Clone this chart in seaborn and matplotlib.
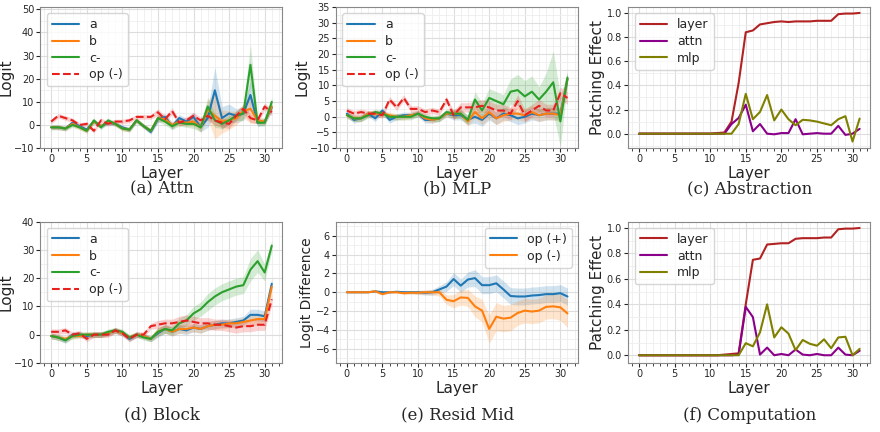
import numpy as np
import matplotlib
matplotlib.use("Agg")
import matplotlib.pyplot as plt
import seaborn as sns
from matplotlib.ticker import MultipleLocator

sns.set_style("whitegrid")
plt.rcParams['font.family'] = ['DejaVu Sans']

layers = list(range(32))

# (a) Attn
attn_a = [-1,-1,-1.5,1,-0.5,-2,1.5,-0.5,1,0.5,-1,-2,2,-0.5,-3,2.5,3.5,-0.5,3,1.5,3.5,-1,3,15,3,5,4,5,13,1,1.5,7.5]
attn_b = [-1,-1,-1.5,0.5,-1,-2.5,1.5,-0.5,1.5,0.5,-1.5,-2,2,-0.5,-2.5,3,2.5,0,1.5,1,1.5,-1,6.5,4,1.5,2,3,6,7,2,1.5,8]
attn_c = [-1,-1,-1.5,0,-1,-2.5,2,-1,2,0.5,-1.5,-2,2,-0.5,-2.5,3,1.5,-0.5,1,0.5,0.5,-1,8,2,0.5,2,4,5,26,1,1,10]
attn_op = [1.5,4,3,2,0,0.5,-2.5,2,0.5,1.5,1.5,2,3.5,3.5,3.5,5.5,2.5,6,1,2,4,2,4,2,1,0.5,4,7,3,2,8,5.5]
attn_a_sd = [1,1,1,1,1,1,1,1,1,1,1,1,1,1,1,1.5,1.5,1.5,1.5,1.5,2,2,4,10,5,4,3,3,6,1.5,1.5,2]
attn_c_sd = [1,1,1,1,1,1,1,1,1,1,1,1,1,1,1,1.5,1.5,1.5,1.5,1.5,2,2,4,3,2,2,2,3,9,1.5,1.5,2]
attn_op_sd = [1,1,1,1,1,1,1,1,1,1,1,1,1,1,1,1.5,1.5,1.5,1.5,1.5,1.5,1.5,2,2,2,2,2,2,2,1.5,1.5,1.5]

# (b) MLP
mlp_a = [1,-1,-0.5,1,-0.5,2,-1,0,0.5,0.5,1,-1,-1,-0.5,1,0.5,0.5,-1,0,-1,1,-0.5,1,0.5,-0.5,0,1,0.5,1,1,1,12]
mlp_b = [0.5,-0.5,-0.5,1,1,1,0.5,0,0,0.5,1,-0.5,-1,-0.5,1,1,1,-1.5,1.5,-0.5,1.5,-0.5,0.5,1,1,0.5,1.5,0.5,1,1,0.5,12]
mlp_c = [0.5,-0.5,-0.5,0.5,1.5,1,0,0,0,0,1,0,-0.5,-0.5,1.5,1,1,-1,5.5,2,6,5,4,8,8.5,6.5,8,5.5,8,11,-1.5,12.5]
mlp_op = [2,1,1.5,1,1,0.5,5.5,3,6,2.5,2.5,1.5,2,1.5,5.5,0.5,3,3,3,3.5,3,2,2,1,5,0.5,2,3.5,2,2,7.5,6]
mlp_a_sd = [1,1,1,1,1,1,1,1,1,1,1,1,1,1,1,1.5,1.5,1.5,2,2,2,2,2,2,2,2,2,2,2,2,2,2]
mlp_c_sd = [1,1,1,1,1,1,1,1,1,1,1,1,1,1,1,1.5,1.5,1.5,2.5,2.5,3,3,3,4,5,5,5,4,6,10,8,2]
mlp_op_sd = [1,1,1,1,1,1,1,1,1,1,1,1,1,1,1,1.5,1.5,1.5,2,2,2,2,2,2,2,2,2,2,2,2,2,2]

# (c) Abstraction
abs_layer = [0,0,0,0,0,0,0,0,0,0,0,0.005,0.01,0.1,0.42,0.84,0.855,0.905,0.915,0.925,0.93,0.925,0.93,0.93,0.93,0.935,0.935,0.935,0.99,0.995,0.995,1.0]
abs_attn = [0,0,0,0,0,0,0,0,0,0,0,0,0,0.08,0.13,0.24,0.02,0.08,0.0,-0.005,0.005,0.005,0.12,-0.005,0,0.005,0,0,0.065,-0.01,0,0.04]
abs_mlp = [0,0,0,0,0,0,0,0,0,0,0,0,0,0,0.08,0.33,0.12,0.18,0.32,0.11,0.2,0.12,0.07,0.115,0.11,0.1,0.085,0.07,0.12,0.145,-0.065,0.125]

# (d) Block
blk_a = [-0.5,-1,-2,0,0,-0.5,0,0,0.5,1.5,0.5,-1.5,0,-0.5,-1.5,0.5,2,1,2,1.5,2.5,2,3,3.5,4,4,4.5,5,7,7,6.5,18]
blk_b = [-0.5,-1,-1.5,-0.5,-0.5,0,0,0,0.5,1.5,0.5,-1,0,-0.5,-1.5,1,2,1,2,2,2.5,2,3,3.5,3.5,4,4,4.5,5,5.5,5.5,17]
blk_c = [-0.5,-1,-2,-0.5,0,0,0,0,1,1.5,1,-1,0,-1,-1.5,1,2,1.5,4,5,7.5,9,11.5,13.5,15,16,17,17.5,23,26,22,31.5]
blk_op = [1,1,1.5,0,0.5,-1.5,0,0,0,1.5,0.5,-1.5,0,0,3,3.5,4,4,4.5,5,4.5,4,4,3.5,3.5,3,2.5,3,3,3.5,3.5,12.5]
blk_a_sd = [1,1,1,1,1,1,1,1,1,1,1,1,1,1,1,1.5,1.5,1.5,1.5,1.5,1.5,1.5,1.5,1.5,1.5,1.5,1.5,1.5,2,2,2,2]
blk_c_sd = [1,1,1,1,1,1,1,1,1,1,1,1,1,1,1,1.5,1.5,1.5,2,2,2.5,2.5,3,3,3,3,3,3,4,4,3,2]
blk_op_sd = [1,1,1,1,1,1,1,1,1,1,1,1,1,1,1,1.5,1.5,1.5,2,2,2,2,2,2,2,2,2,2,2,2,2,2]

# (e) Resid Mid
res_plus = [0,0,0,0,0.1,0,0,0.05,0,0,0,-0.05,0,0.3,0.6,1.4,0.7,1.35,1.5,0.75,0.75,0.95,0.3,-0.4,-0.45,-0.45,-0.35,-0.3,-0.2,-0.2,-0.1,-0.45]
res_minus = [0,0,0,0,0.1,-0.2,0,0,-0.1,-0.05,-0.05,0,0,0,-0.8,-0.95,-0.55,-0.6,-1.5,-1.95,-3.9,-2.6,-2.8,-2.7,-2.2,-1.95,-2.05,-1.95,-1.55,-1.5,-1.6,-2.25]
res_plus_sd = [0.05,0.05,0.05,0.05,0.1,0.1,0.1,0.1,0.15,0.15,0.2,0.25,0.3,0.4,0.5,0.7,0.7,0.8,0.9,0.9,0.9,0.9,0.9,0.9,0.9,0.9,0.9,0.9,0.9,0.9,0.9,0.9]
res_minus_sd = [0.05,0.05,0.05,0.05,0.1,0.1,0.1,0.1,0.15,0.15,0.2,0.25,0.3,0.4,0.5,0.7,0.8,0.9,1.1,1.2,1.5,1.5,1.4,1.4,1.3,1.3,1.3,1.3,1.3,1.3,1.4,1.5]

# (f) Computation
cmp_layer = [0,0,0,0,0,0,0,0,0,0,0,0,0.005,0.01,0.015,0.4,0.75,0.76,0.87,0.875,0.88,0.88,0.915,0.92,0.92,0.92,0.925,0.925,0.99,0.995,0.995,1.0]
cmp_attn = [0,0,0,0,0,0,0,0,0,0,0,0,0,0,0.005,0.38,0.3,0.005,0.06,0,0.01,0,0.045,0.005,0,0.01,0,0,0.06,0.005,0,0.035]
cmp_mlp = [0,0,0,0,0,0,0,0,0,0,0,0,0,0,0,0.095,0.07,0.18,0.4,0.14,0.22,0.17,0.04,0.12,0.09,0.075,0.125,0.055,0.14,0.145,0,0.05]

blue, orange, green, red = '#1f77b4', '#ff7f0e', '#2ca02c', '#e8201e'
c_layer, c_attn, c_mlp = '#b22222', '#8b008b', '#808000'

fig = plt.figure(figsize=(8.8, 4.32), dpi=100)
lefts = [0.046, 0.382, 0.714]
bots = [0.657, 0.16]
w, h = 0.275, 0.327
cap_off = [-0.29, -0.37]
captions = ['(a) Attn', '(b) MLP', '(c) Abstraction', '(d) Block', '(e) Resid Mid', '(f) Computation']
axes = []
for r in range(2):
    for c in range(3):
        axes.append(fig.add_axes([lefts[c], bots[r], w, h]))


def band(ax, y, sd, color):
    y = np.array(y); sd = np.array(sd)
    ax.fill_between(layers, y - sd, y + sd, color=color, alpha=0.2, lw=0)


def logit_panel(ax, a, b, c, op, a_sd, c_sd, op_sd):
    band(ax, a, a_sd, blue)
    band(ax, b, a_sd, orange)
    band(ax, c, c_sd, green)
    band(ax, op, op_sd, red)
    sns.lineplot(x=layers, y=a, ax=ax, color=blue, lw=1.5, label='a')
    sns.lineplot(x=layers, y=b, ax=ax, color=orange, lw=1.5, label='b')
    sns.lineplot(x=layers, y=c, ax=ax, color=green, lw=1.5, label='c-')
    sns.lineplot(x=layers, y=op, ax=ax, color=red, lw=1.5, ls='--', label='op (-)')
    ax.set_ylabel('Logit', fontsize=11, labelpad=0)
    ax.legend(loc='upper left', fontsize=9, handlelength=2.2, borderpad=0.4, labelspacing=0.3)


def patch_panel(ax, la, at, ml, ylim):
    sns.lineplot(x=layers, y=la, ax=ax, color=c_layer, lw=1.5, label='layer')
    sns.lineplot(x=layers, y=at, ax=ax, color=c_attn, lw=1.5, label='attn')
    sns.lineplot(x=layers, y=ml, ax=ax, color=c_mlp, lw=1.5, label='mlp')
    ax.set_ylim(*ylim)
    ax.set_ylabel('Patching Effect', fontsize=11, labelpad=1)
    ax.yaxis.set_major_locator(MultipleLocator(0.2))
    ax.yaxis.set_minor_locator(MultipleLocator(0.1))
    ax.legend(loc='upper left', fontsize=9, handlelength=2.2, borderpad=0.4, labelspacing=0.3)


logit_panel(axes[0], attn_a, attn_b, attn_c, attn_op, attn_a_sd, attn_c_sd, attn_op_sd)
axes[0].set_ylim(-10, 51)
axes[0].yaxis.set_major_locator(MultipleLocator(10))
axes[0].yaxis.set_minor_locator(MultipleLocator(5))

logit_panel(axes[1], mlp_a, mlp_b, mlp_c, mlp_op, mlp_a_sd, mlp_c_sd, mlp_op_sd)
axes[1].set_ylim(-10, 35)
axes[1].yaxis.set_major_locator(MultipleLocator(5))
axes[1].yaxis.set_minor_locator(MultipleLocator(2.5))

patch_panel(axes[2], abs_layer, abs_attn, abs_mlp, (-0.12, 1.05))

logit_panel(axes[3], blk_a, blk_b, blk_c, blk_op, blk_a_sd, blk_c_sd, blk_op_sd)
axes[3].set_ylim(-10, 40)
axes[3].yaxis.set_major_locator(MultipleLocator(10))
axes[3].yaxis.set_minor_locator(MultipleLocator(5))

ax = axes[4]
band(ax, res_plus, res_plus_sd, blue)
band(ax, res_minus, res_minus_sd, orange)
sns.lineplot(x=layers, y=res_plus, ax=ax, color=blue, lw=1.5, label='op (+)')
sns.lineplot(x=layers, y=res_minus, ax=ax, color=orange, lw=1.5, label='op (-)')
ax.set_ylim(-7.5, 7.5)
ax.yaxis.set_major_locator(MultipleLocator(2))
ax.yaxis.set_minor_locator(MultipleLocator(1))
ax.set_ylabel('Logit Difference', fontsize=10, labelpad=1)
ax.legend(loc='upper right', fontsize=9, handlelength=2.2, borderpad=0.4, labelspacing=0.3)

patch_panel(axes[5], cmp_layer, cmp_attn, cmp_mlp, (-0.06, 1.05))

for i, (ax, cap) in enumerate(zip(axes, captions)):
    ax.set_xlim(-1.5, 32.5)
    ax.xaxis.set_major_locator(MultipleLocator(5))
    ax.xaxis.set_minor_locator(MultipleLocator(1))
    ax.set_xlabel('Layer', fontsize=11, labelpad=1)
    ax.tick_params(axis='both', which='major', labelsize=7, length=3, pad=1.5, left=True, bottom=True)
    ax.tick_params(axis='x', which='minor', length=2, bottom=True)
    ax.grid(True, which='major', color='#dddddd', lw=0.8)
    ax.grid(True, which='minor', color='#eeeeee', lw=0.6)
    for s in ax.spines.values():
        s.set_color('#888888')
        s.set_linewidth(0.8)
    ax.text(0.5, cap_off[i // 3], cap, transform=ax.transAxes, ha='center', va='center',
            fontsize=12, family='DejaVu Serif')

fig.savefig('out.png', dpi=100)
